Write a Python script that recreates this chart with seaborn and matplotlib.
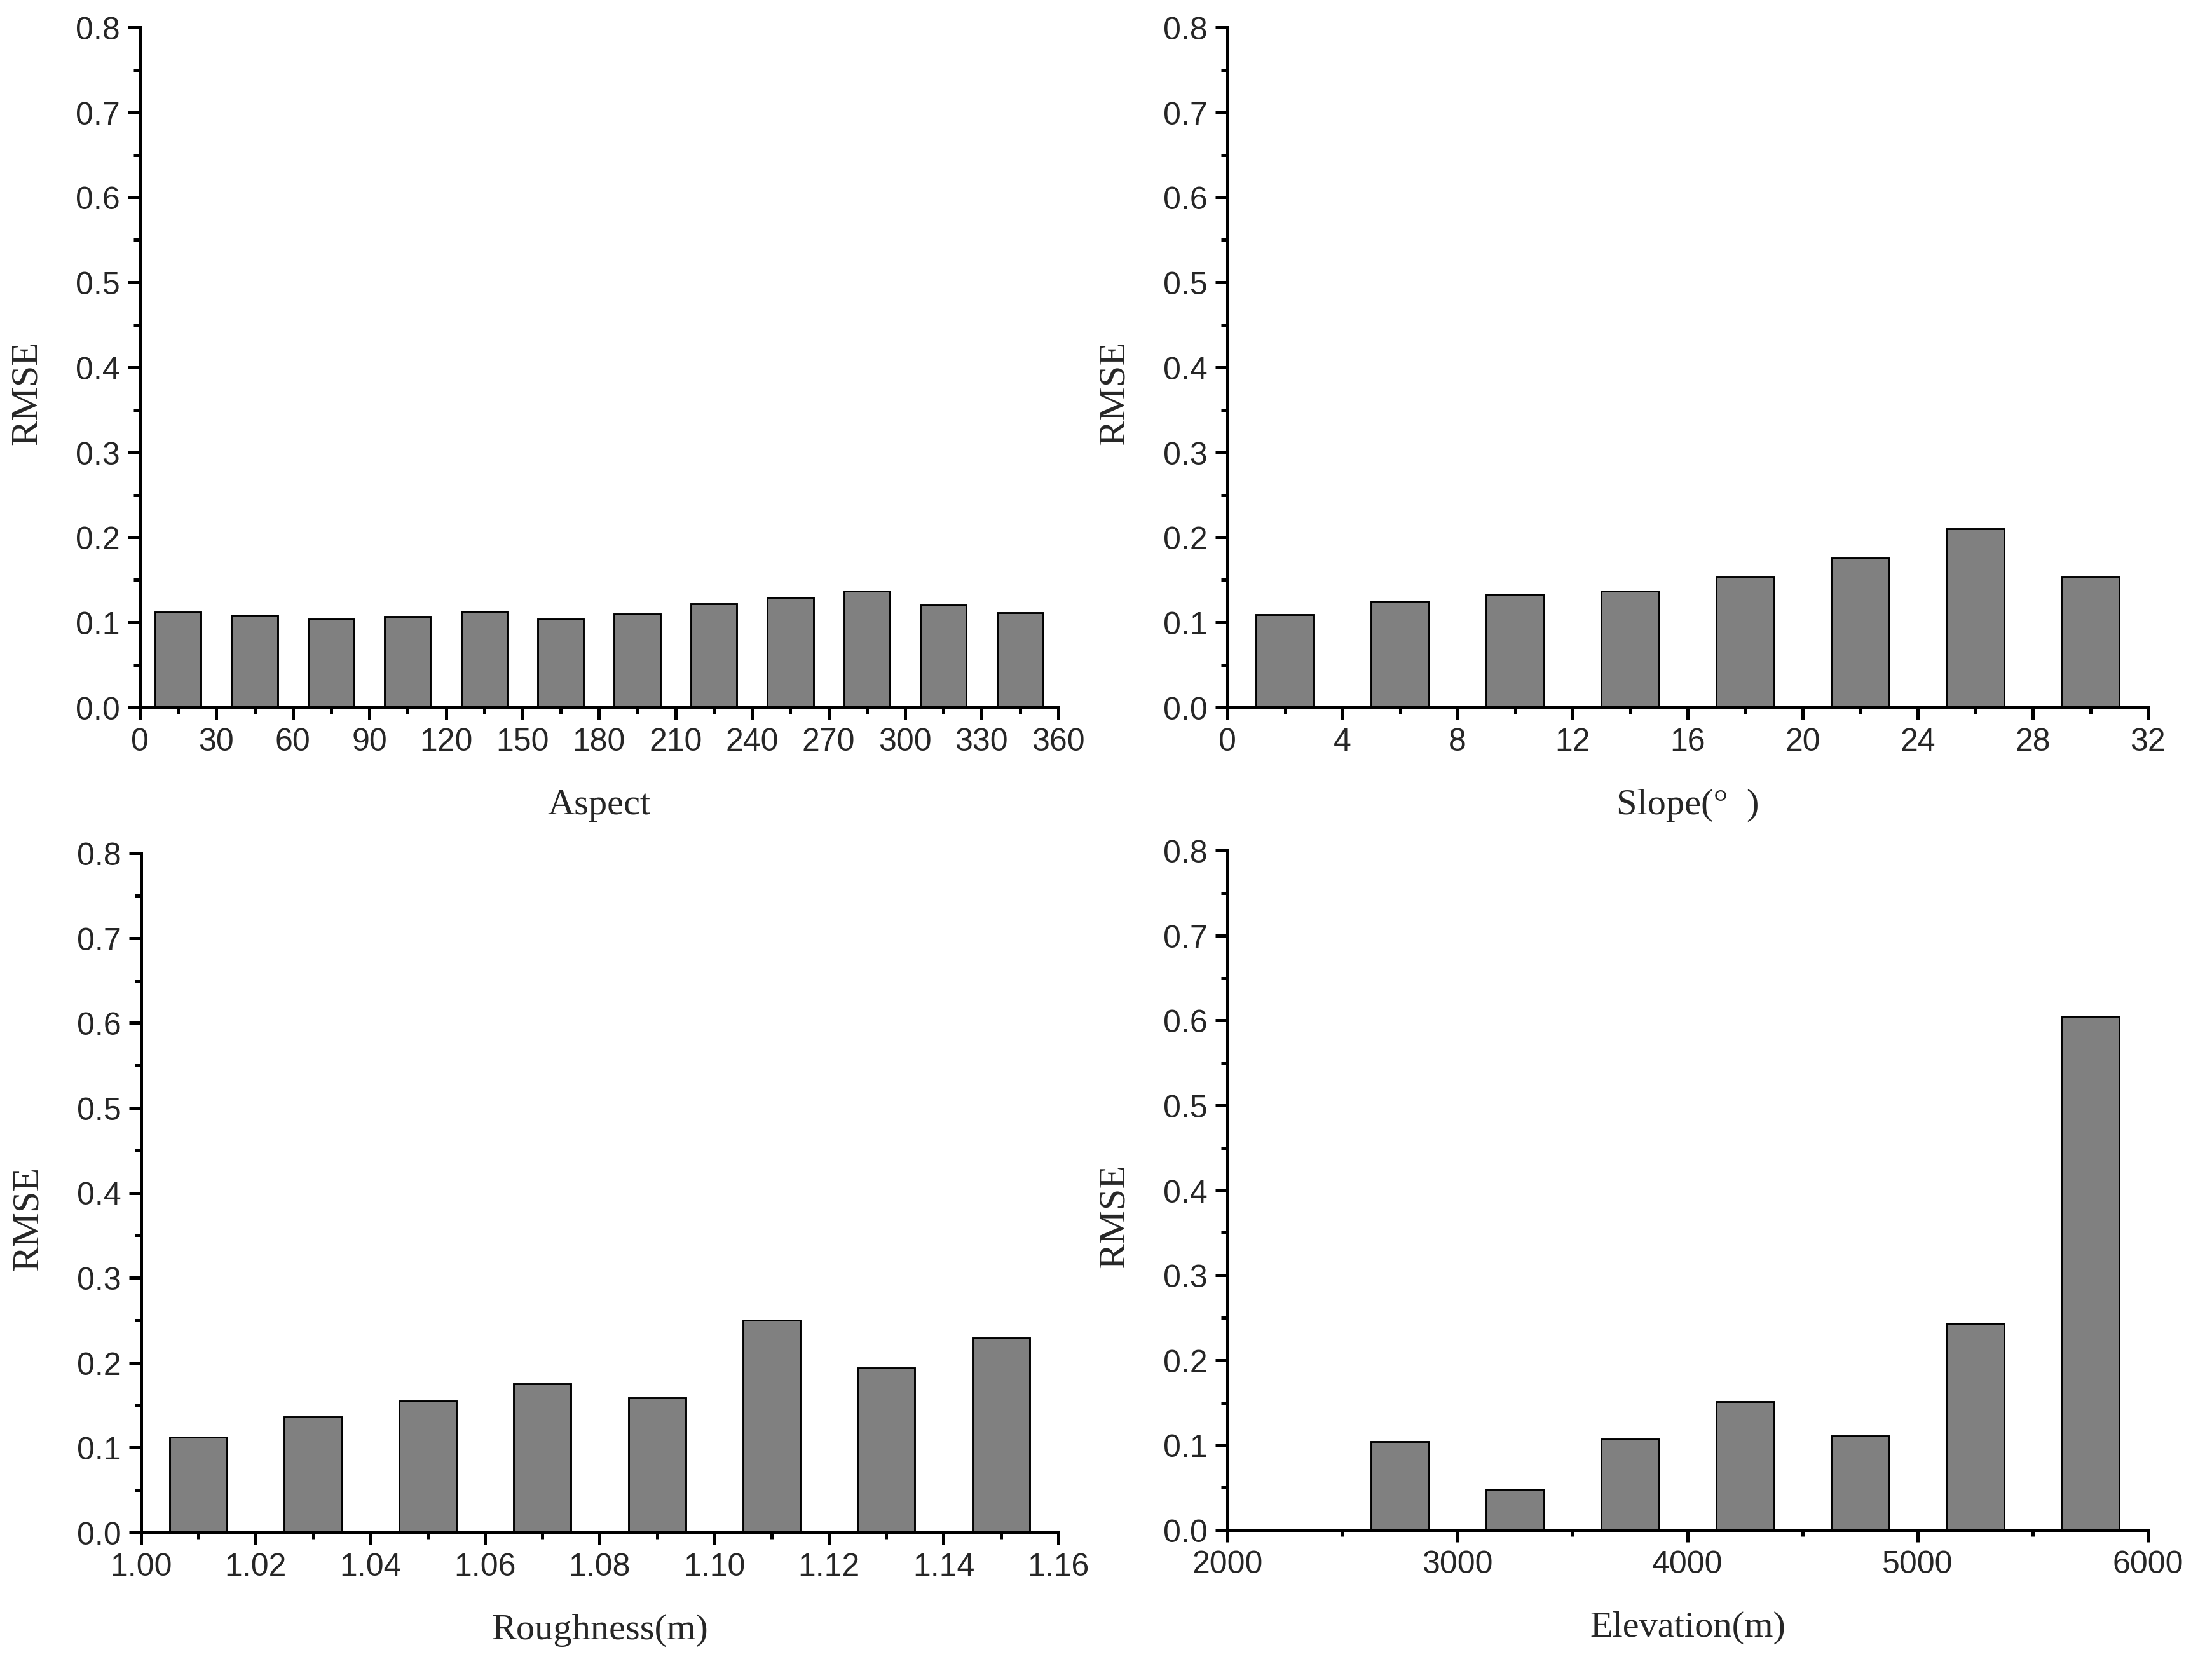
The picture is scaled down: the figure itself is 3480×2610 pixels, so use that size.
import pandas as pd
import matplotlib.pyplot as plt
import seaborn as sns
from matplotlib.ticker import MultipleLocator

# Aspect panel
aspect_bins = [15, 45, 75, 105, 135, 165, 195, 225, 255, 285, 315, 345]
aspect_rmse = [0.112, 0.108, 0.104, 0.107, 0.113, 0.104, 0.110, 0.122, 0.129, 0.137, 0.120, 0.111]

# Slope panel
slope_bins = [2, 6, 10, 14, 18, 22, 26, 30]
slope_rmse = [0.109, 0.125, 0.133, 0.137, 0.154, 0.176, 0.210, 0.154]

# Roughness panel
rough_bins = [1.01, 1.03, 1.05, 1.07, 1.09, 1.11, 1.13, 1.15]
rough_rmse = [0.112, 0.136, 0.155, 0.175, 0.159, 0.250, 0.194, 0.229]

# Elevation panel
elev_bins = [2250, 2750, 3250, 3750, 4250, 4750, 5250, 5750]
elev_rmse = [0.0, 0.104, 0.048, 0.107, 0.151, 0.111, 0.243, 0.605]

sns.set_style("ticks")
plt.rcParams['font.family'] = ['Liberation Sans Narrow', 'Liberation Sans', 'DejaVu Sans']

fig = plt.figure(figsize=(11.6, 8.703), dpi=300)

panels = [
    # bins, values, bar width, xlim, major, minor, xlabel, axes rect, tick format
    (aspect_bins, aspect_rmse, 0.6, (0, 360), 30, 15, 'Aspect',
     [0.0632, 0.5734, 0.4152, 0.4098], '{:.0f}'),
    (slope_bins, slope_rmse, 0.5, (0, 32), 4, 2, 'Slope(°  )',
     [0.5549, 0.5734, 0.4161, 0.4098], '{:.0f}'),
    (rough_bins, rough_rmse, 0.5, (1.00, 1.16), 0.02, 0.01, 'Roughness(m)',
     [0.0638, 0.0762, 0.4146, 0.4094], '{:.2f}'),
    (elev_bins, elev_rmse, 0.5, (2000, 6000), 1000, 500, 'Elevation(m)',
     [0.5549, 0.0777, 0.4161, 0.4094], '{:.0f}'),
]

for bins, vals, w, xlim, major, minor, xlabel, rect, fmt in panels:
    ax = fig.add_axes(rect)
    df = pd.DataFrame({'bin': bins, 'rmse': vals})
    sns.barplot(data=df, x='bin', y='rmse', native_scale=True, width=w,
                color='#808080', saturation=1, edgecolor='black',
                linewidth=0.7, ax=ax)
    ax.set_xlim(*xlim)
    ax.set_ylim(0, 0.8)
    ax.xaxis.set_major_locator(MultipleLocator(major))
    ax.xaxis.set_minor_locator(MultipleLocator(minor))
    ax.yaxis.set_major_locator(MultipleLocator(0.1))
    ax.yaxis.set_minor_locator(MultipleLocator(0.05))
    ax.xaxis.set_major_formatter(plt.FuncFormatter(lambda v, p, f=fmt: f.format(v)))
    ax.yaxis.set_major_formatter(plt.FuncFormatter(lambda v, p: '{:.1f}'.format(v)))
    sns.despine(ax=ax)
    for s in ['left', 'bottom']:
        ax.spines[s].set_linewidth(1.2)
        ax.spines[s].set_color('black')
    ax.tick_params(which='major', length=4.5, width=1.2, labelsize=12, color='black', pad=3)
    ax.tick_params(which='minor', length=2.3, width=1.2, color='black')
    ax.set_xlabel(xlabel, family='Liberation Serif', fontsize=14, labelpad=12)
    ax.set_ylabel('RMSE', family='Liberation Serif', fontsize=14.5)
    ax.yaxis.set_label_coords(-0.104, 0.463)

fig.savefig('out.png', dpi=300)
